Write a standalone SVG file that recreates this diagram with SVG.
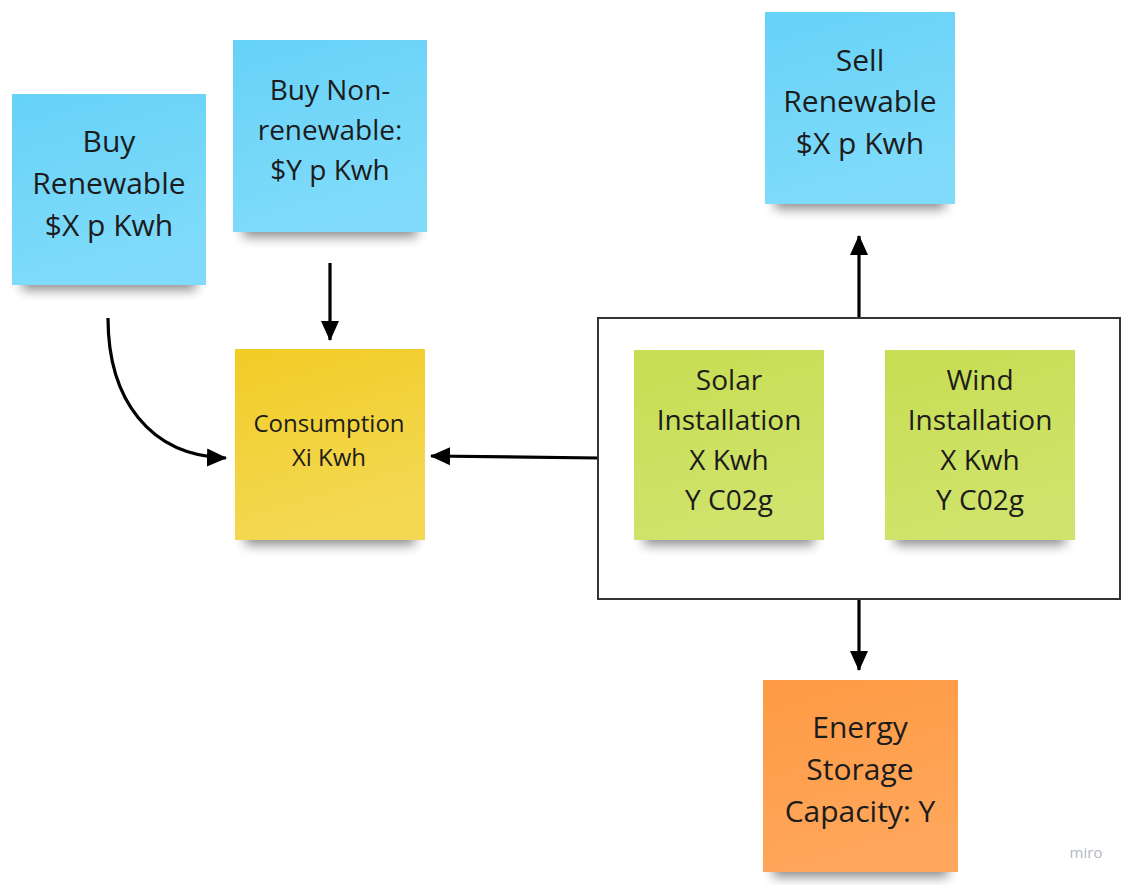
<svg xmlns="http://www.w3.org/2000/svg" width="1129" height="885" viewBox="0 0 1129 885">
<style>
.t{font-family:"Open Sans","Noto Sans",sans-serif;fill:#1c1c1c;text-anchor:middle}
.big{font-size:30px}
.mid{font-size:28px}
.sm{font-size:24px}
.conn{stroke:#000;stroke-width:3.2;fill:none}
</style>
<defs>
<filter id="blur" x="-20%" y="-50%" width="140%" height="200%"><feGaussianBlur stdDeviation="6"/></filter>
<linearGradient id="gBlue" x1="0" y1="0" x2="0.3" y2="1"><stop offset="0" stop-color="#66d2f7"/><stop offset="1" stop-color="#80dbfa"/></linearGradient>
<linearGradient id="gYel" x1="0" y1="0" x2="0.3" y2="1"><stop offset="0" stop-color="#f1cc25"/><stop offset="1" stop-color="#f4d853"/></linearGradient>
<linearGradient id="gGrn" x1="0" y1="0" x2="0.3" y2="1"><stop offset="0" stop-color="#c7dd52"/><stop offset="1" stop-color="#d0e36c"/></linearGradient>
<linearGradient id="gOrg" x1="0" y1="0" x2="0.3" y2="1"><stop offset="0" stop-color="#fe9a43"/><stop offset="1" stop-color="#ffa75c"/></linearGradient>
<marker id="arr" viewBox="0 0 20 20" refX="19" refY="10" markerWidth="20" markerHeight="20" markerUnits="userSpaceOnUse" orient="auto"><path d="M0,1 L20,10 L0,19 z" fill="#000"/></marker>
</defs>
<rect width="1129" height="885" fill="#fff"/>

<g id="connectors">
<path class="conn" d="M108,318 C108,400 150,456 226,458" marker-end="url(#arr)"/>
<path class="conn" d="M330,263 L330,340" marker-end="url(#arr)"/>
<path class="conn" d="M598,458 L431,456" marker-end="url(#arr)"/>
<path class="conn" d="M859,317 L859,236" marker-end="url(#arr)"/>
<path class="conn" d="M859,599 L859,670" marker-end="url(#arr)"/>
</g>

<g id="group-box">
<rect x="598" y="318" width="522" height="281" fill="none" stroke="#333" stroke-width="2"/>
</g>

<g id="buy-renewable">
<rect x="22" y="268" width="174" height="22" fill="#000" opacity="0.45" filter="url(#blur)"/>
<rect x="12" y="94" width="194" height="191" fill="url(#gBlue)"/>
<text class="t big" x="109" y="152">Buy</text>
<text class="t big" x="109" y="194">Renewable</text>
<text class="t big" x="109" y="236">$X p Kwh</text>
</g>

<g id="buy-nonrenewable">
<rect x="243" y="215" width="174" height="22" fill="#000" opacity="0.45" filter="url(#blur)"/>
<rect x="233" y="40" width="194" height="192" fill="url(#gBlue)"/>
<text class="t mid" x="330" y="100">Buy Non-</text>
<text class="t mid" x="330" y="140">renewable:</text>
<text class="t mid" x="330" y="180">$Y p Kwh</text>
</g>

<g id="consumption">
<rect x="245" y="523" width="170" height="22" fill="#000" opacity="0.45" filter="url(#blur)"/>
<rect x="235" y="349" width="190" height="191" fill="url(#gYel)"/>
<text class="t sm" x="329" y="432">Consumption</text>
<text class="t sm" x="329" y="466">Xi Kwh</text>
</g>

<g id="solar">
<rect x="644" y="523" width="170" height="22" fill="#000" opacity="0.45" filter="url(#blur)"/>
<rect x="634" y="350" width="190" height="190" fill="url(#gGrn)"/>
<text class="t mid" x="729" y="390">Solar</text>
<text class="t mid" x="729" y="430">Installation</text>
<text class="t mid" x="729" y="470">X Kwh</text>
<text class="t mid" x="729" y="510">Y C02g</text>
</g>

<g id="wind">
<rect x="895" y="523" width="170" height="22" fill="#000" opacity="0.45" filter="url(#blur)"/>
<rect x="885" y="350" width="190" height="190" fill="url(#gGrn)"/>
<text class="t mid" x="980" y="390">Wind</text>
<text class="t mid" x="980" y="430">Installation</text>
<text class="t mid" x="980" y="470">X Kwh</text>
<text class="t mid" x="980" y="510">Y C02g</text>
</g>

<g id="sell-renewable">
<rect x="775" y="187" width="170" height="22" fill="#000" opacity="0.45" filter="url(#blur)"/>
<rect x="765" y="12" width="190" height="192" fill="url(#gBlue)"/>
<text class="t big" x="860" y="71">Sell</text>
<text class="t big" x="860" y="112">Renewable</text>
<text class="t big" x="860" y="154">$X p Kwh</text>
</g>

<g id="energy-storage">
<rect x="773" y="855" width="175" height="22" fill="#000" opacity="0.45" filter="url(#blur)"/>
<rect x="763" y="680" width="195" height="192" fill="url(#gOrg)"/>
<text class="t big" x="860" y="738">Energy</text>
<text class="t big" x="860" y="780">Storage</text>
<text class="t big" x="860" y="822">Capacity: Y</text>
</g>

<text x="1086" y="858" font-family="'Open Sans',sans-serif" font-size="15" fill="#b5b8c2" text-anchor="middle">miro</text>
</svg>
